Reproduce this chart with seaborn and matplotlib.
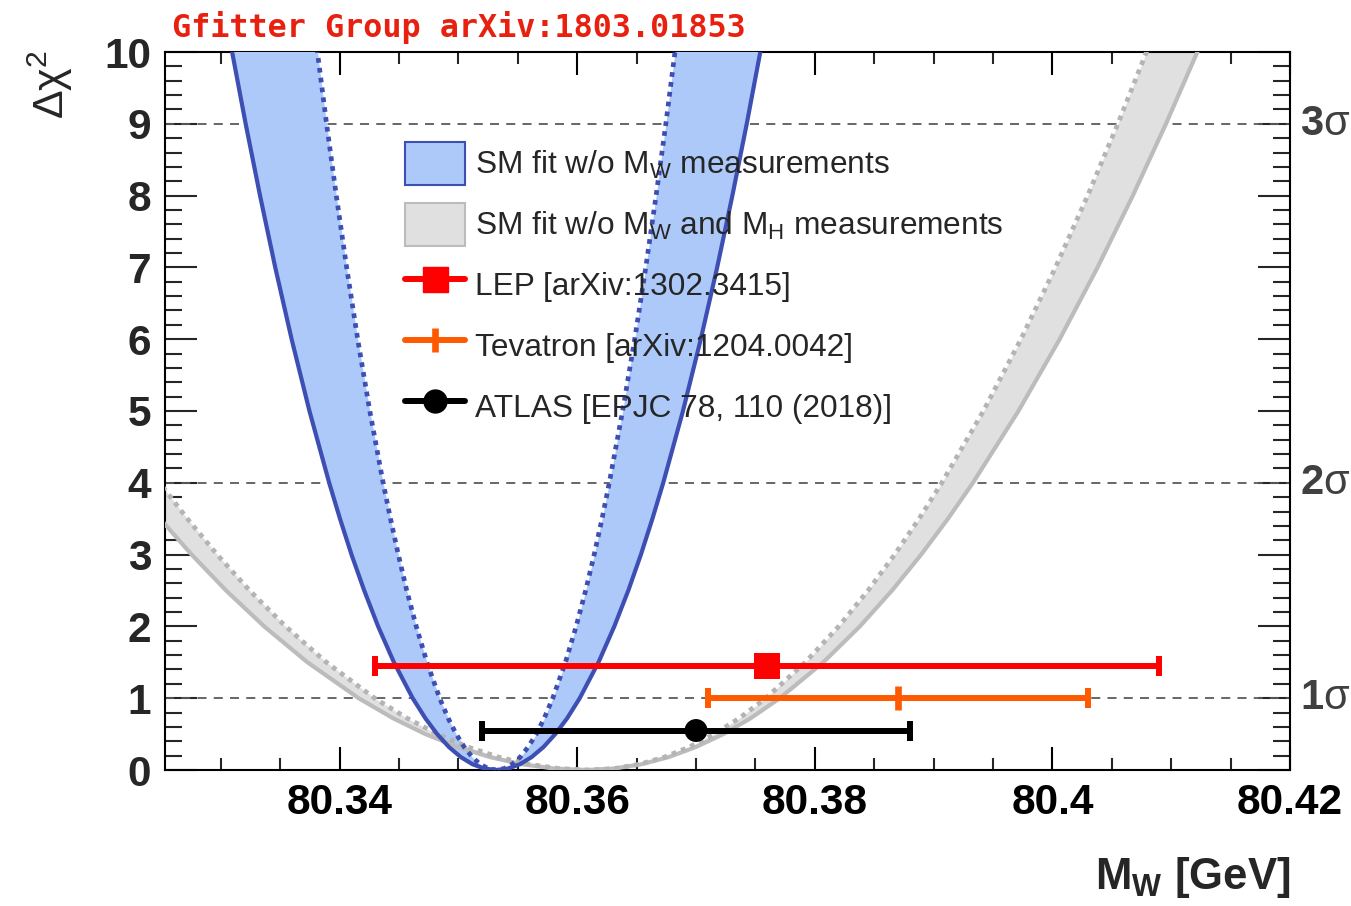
import matplotlib
matplotlib.use("Agg")
import matplotlib.pyplot as plt
import numpy as np
import pandas as pd
import seaborn as sns
from matplotlib.lines import Line2D
from matplotlib.patches import Patch
from matplotlib.ticker import MultipleLocator

# ---------------------------------------------------------------------------
# Profile curves: x position (MW in GeV) of each branch at given Δχ² levels
# ---------------------------------------------------------------------------
LEVELS = [0, 0.02, 0.08, 0.18, 0.32, 0.5, 0.72, 1, 1.5, 2, 2.5, 3, 3.5, 4,
          5, 6, 7, 8, 9, 10, 11]
LEVELS_GREY_LEFT = [0, 0.02, 0.08, 0.18, 0.32, 0.5, 0.72, 1, 1.5, 2, 2.5, 3,
                    3.5, 4, 4.5]

# SM fit without MW measurements (blue band)
BLUE_SOLID_LEFT = [80.35318, 80.35219, 80.35119, 80.35020, 80.34920, 80.34821,
                   80.34722, 80.34615, 80.34457, 80.34324, 80.34207, 80.34100,
                   80.34003, 80.33912, 80.33746, 80.33596, 80.33458, 80.33330,
                   80.33209, 80.33095, 80.32986]
BLUE_SOLID_RIGHT = [80.35318, 80.35417, 80.35517, 80.35616, 80.35716, 80.35815,
                    80.35915, 80.36021, 80.36179, 80.36312, 80.36430, 80.36536,
                    80.36633, 80.36724, 80.36890, 80.37040, 80.37178, 80.37306,
                    80.37427, 80.37541, 80.37650]
BLUE_DOTTED_LEFT = [80.35318, 80.35251, 80.35183, 80.35116, 80.35049, 80.34981,
                    80.34914, 80.34842, 80.34735, 80.34645, 80.34565, 80.34494,
                    80.34428, 80.34366, 80.34254, 80.34152, 80.34059, 80.33972,
                    80.33890, 80.33813, 80.33739]
BLUE_DOTTED_RIGHT = [80.35318, 80.35385, 80.35453, 80.35520, 80.35587, 80.35655,
                     80.35722, 80.35794, 80.35901, 80.35991, 80.36071, 80.36143,
                     80.36209, 80.36270, 80.36382, 80.36484, 80.36577, 80.36664,
                     80.36746, 80.36823, 80.36897]

# SM fit without MW and MH measurements (grey band)
GREY_SOLID_LEFT = [80.36080, 80.35809, 80.35537, 80.35265, 80.34994, 80.34722,
                   80.34451, 80.34160, 80.33729, 80.33365, 80.33044, 80.32754,
                   80.32488, 80.32240, 80.32007]
GREY_DOTTED_LEFT = [80.36105, 80.35849, 80.35593, 80.35337, 80.35081, 80.34825,
                    80.34569, 80.34295, 80.33888, 80.33545, 80.33242, 80.32969,
                    80.32718, 80.32484, 80.32264]
GREY_SOLID_RIGHT = [80.36080, 80.36310, 80.36540, 80.36770, 80.36999, 80.37229,
                    80.37459, 80.37705, 80.38071, 80.38379, 80.38650, 80.38895,
                    80.39121, 80.39331, 80.39714, 80.40061, 80.40380, 80.40677,
                    80.40956, 80.41220, 80.41471]
GREY_DOTTED_RIGHT = [80.36105, 80.36315, 80.36524, 80.36734, 80.36943, 80.37153,
                     80.37363, 80.37587, 80.37920, 80.38201, 80.38448, 80.38672,
                     80.38878, 80.39069, 80.39419, 80.39735, 80.40026, 80.40297,
                     80.40551, 80.40792, 80.41021]

# Direct MW measurements
EXPERIMENTS = ["LEP [arXiv:1302.3415]", "Tevatron [arXiv:1204.0042]",
               "ATLAS [EPJC 78, 110 (2018)]"]
MW_CENTRAL = [80.376, 80.387, 80.370]
MW_ERROR = [0.033, 0.016, 0.018]
ROW_DCHI2 = [1.45, 1.0, 0.55]

SIGMA_LEVELS = [1, 4, 9]
SIGMA_LABELS = [r"$\mathbf{1}\mathrm{\sigma}$", r"$\mathbf{2}\mathrm{\sigma}$",
                r"$\mathbf{3}\mathrm{\sigma}$"]

XTICKS = [80.34, 80.36, 80.38, 80.40, 80.42]
XTICK_LABELS = ["80.34", "80.36", "80.38", "80.4", "80.42"]
YTICKS = list(range(0, 11))
YTICK_LABELS = [str(v) for v in YTICKS]

LEGEND_LABELS = [r"SM fit w/o M$_\mathrm{W}$ measurements",
                 r"SM fit w/o M$_\mathrm{W}$ and M$_\mathrm{H}$ measurements"]

# ---------------------------------------------------------------------------
# Style
# ---------------------------------------------------------------------------
sns.set_theme(style="ticks")
plt.rcParams["font.family"] = ["Liberation Sans", "DejaVu Sans"]
plt.rcParams["mathtext.fontset"] = "custom"
plt.rcParams["mathtext.rm"] = "Liberation Sans"
plt.rcParams["mathtext.it"] = "Liberation Sans:italic"
plt.rcParams["mathtext.bf"] = "Liberation Sans:bold"

BLUE_FILL = "#adc9fa"
BLUE_LINE = "#3d4fb3"
GREY_FILL = "#e0e0e0"
GREY_LINE = "#bcbcbc"
GREY_DOT = "#b4b4b4"
EXP_COLORS = ["#ff0000", "#ff5a00", "#000000"]
DASH_COLOR = "#5a5a5a"

fig = plt.figure(figsize=(13.51, 9.06), dpi=100)
ax = fig.add_axes([165 / 1351, 1 - 770 / 906, 1125 / 1351, 718 / 906])
ax.set_xlim(80.3253, 80.42)
ax.set_ylim(0, 10)


def branch_frame(left, right, levels_left, levels_right):
    x = list(left[::-1]) + list(right[1:])
    y = list(levels_left[::-1]) + list(levels_right[1:])
    return pd.DataFrame({"mw": x, "dchi2": y})


# sigma reference lines
for lvl in SIGMA_LEVELS:
    ax.axhline(lvl, color=DASH_COLOR, lw=1.3, ls=(0, (5, 4)), zorder=1)

# grey band
ax.fill_betweenx(LEVELS_GREY_LEFT, GREY_SOLID_LEFT, GREY_DOTTED_LEFT,
                 color=GREY_FILL, lw=0, zorder=2)
ax.fill_betweenx(LEVELS, GREY_DOTTED_RIGHT, GREY_SOLID_RIGHT,
                 color=GREY_FILL, lw=0, zorder=2)

# blue band
ax.fill_betweenx(LEVELS, BLUE_SOLID_LEFT, BLUE_DOTTED_LEFT,
                 color=BLUE_FILL, lw=0, zorder=3)
ax.fill_betweenx(LEVELS, BLUE_DOTTED_RIGHT, BLUE_SOLID_RIGHT,
                 color=BLUE_FILL, lw=0, zorder=3)

grey_solid = branch_frame(GREY_SOLID_LEFT, GREY_SOLID_RIGHT, LEVELS_GREY_LEFT, LEVELS)
grey_dotted = branch_frame(GREY_DOTTED_LEFT, GREY_DOTTED_RIGHT, LEVELS_GREY_LEFT, LEVELS)
blue_solid = branch_frame(BLUE_SOLID_LEFT, BLUE_SOLID_RIGHT, LEVELS, LEVELS)
blue_dotted = branch_frame(BLUE_DOTTED_LEFT, BLUE_DOTTED_RIGHT, LEVELS, LEVELS)

dotted = (0, (1.0, 1.1))
sns.lineplot(data=grey_solid, x="mw", y="dchi2", sort=False, estimator=None,
             color=GREY_LINE, lw=3.0, ax=ax, zorder=4)
sns.lineplot(data=grey_dotted, x="mw", y="dchi2", sort=False, estimator=None,
             color=GREY_DOT, lw=3.4, ax=ax, zorder=4)
ax.lines[-1].set_linestyle(dotted)
sns.lineplot(data=blue_solid, x="mw", y="dchi2", sort=False, estimator=None,
             color=BLUE_LINE, lw=3.0, ax=ax, zorder=5)
sns.lineplot(data=blue_dotted, x="mw", y="dchi2", sort=False, estimator=None,
             color=BLUE_LINE, lw=3.4, ax=ax, zorder=5)
ax.lines[-1].set_linestyle(dotted)

# measurements
markers = ["s", "|", "o"]
msizes = [18.5, 17, 16.5]
for i in range(len(EXPERIMENTS)):
    ax.errorbar(MW_CENTRAL[i], ROW_DCHI2[i], xerr=MW_ERROR[i], fmt="none",
                ecolor=EXP_COLORS[i], elinewidth=4.3, capsize=7.5,
                capthick=4.3, zorder=7)
meas = pd.DataFrame({"mw": MW_CENTRAL, "dchi2": ROW_DCHI2, "exp": EXPERIMENTS})
for i in range(len(EXPERIMENTS)):
    sub = meas.iloc[[i]]
    if markers[i] == "|":
        ax.plot(sub["mw"], sub["dchi2"], marker="|", ms=msizes[i], mew=4.8,
                color=EXP_COLORS[i], ls="none", zorder=8)
    else:
        sns.scatterplot(data=sub, x="mw", y="dchi2", marker=markers[i],
                        s=msizes[i] ** 2, color=EXP_COLORS[i], edgecolor="none",
                        ax=ax, zorder=8, legend=False)

# legend
handles = [
    Patch(facecolor=BLUE_FILL, edgecolor=BLUE_LINE, lw=1.5),
    Patch(facecolor=GREY_FILL, edgecolor=GREY_LINE, lw=1.5),
    Line2D([], [], color=EXP_COLORS[0], lw=4.3, marker="s", ms=18),
    Line2D([], [], color=EXP_COLORS[1], lw=4.3, marker="|", ms=17, mew=4.8),
    Line2D([], [], color=EXP_COLORS[2], lw=4.3, marker="o", ms=16.5),
]
labels = LEGEND_LABELS + EXPERIMENTS
ax.legend(handles, labels, loc="upper left",
          bbox_to_anchor=((405 - 165) / 1125, (770 - 142) / 718),
          frameon=False, fontsize=22.8, handlelength=1.9, handleheight=1.7,
          handletextpad=0.3, labelspacing=0.57, borderaxespad=0,
          borderpad=0)

# axes, ticks
ax.set_xticks(XTICKS, labels=XTICK_LABELS, fontweight="bold", fontsize=30.5)
ax.set_yticks(YTICKS, labels=YTICK_LABELS, fontweight="bold", fontsize=30.5)
ax.xaxis.set_minor_locator(MultipleLocator(0.005))
ax.yaxis.set_minor_locator(MultipleLocator(0.2))
ax.tick_params(axis="x", which="major", direction="in", length=16.5, width=1.5,
               top=True, bottom=True, pad=9, colors="black")
ax.tick_params(axis="x", which="minor", direction="in", length=8.6, width=1.5,
               top=True, bottom=True)
ax.tick_params(axis="y", which="major", direction="in", length=23, width=1.5,
               left=True, right=True, pad=10)
ax.tick_params(axis="y", which="minor", direction="in", length=12, width=1.5,
               left=True, right=True)
for s in ax.spines.values():
    s.set_linewidth(1.5)
    s.set_color("black")
ax.set_xlabel("")
ax.set_ylabel("")

for lvl, lab in zip(SIGMA_LEVELS, SIGMA_LABELS):
    ax.text((1300 - 165) / 1125, lvl, lab, transform=ax.get_yaxis_transform(),
            ha="left", va="center", fontsize=30, color="#404040")

fig.text(50 / 1351, 1 - 50 / 906, r"$\mathrm{\Delta\chi}^{2}$", rotation=90,
         ha="center", va="top", fontsize=31)
fig.text(1290 / 1351, 1 - 878 / 906, r"$\mathbf{M}_{\mathbf{W}}$ [GeV]",
         ha="right", va="center", fontsize=31.5, fontweight="bold")
fig.text(172 / 1351, 1 - 28 / 906, "Gfitter Group arXiv:1803.01853",
         ha="left", va="center", fontsize=22.9, fontweight="bold",
         family="DejaVu Sans Mono", color="#e8200f")

fig.savefig("out.png", dpi=100, facecolor="white")
